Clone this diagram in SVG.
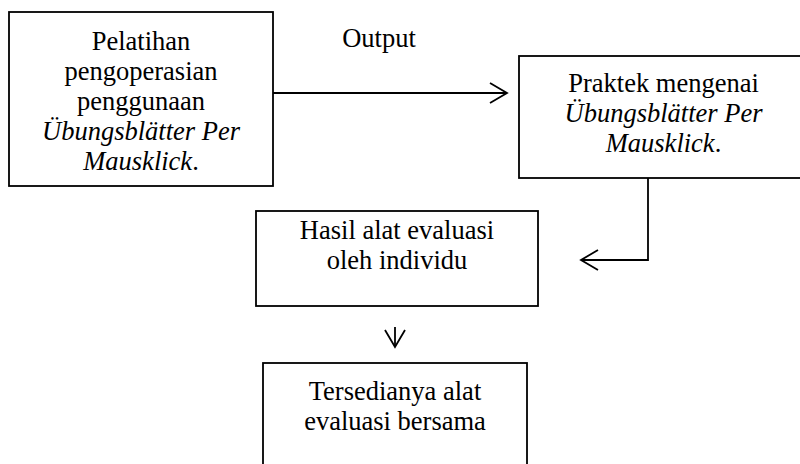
<svg xmlns="http://www.w3.org/2000/svg" width="800" height="464" viewBox="0 0 800 464">
<style>
.box{fill:#fff;stroke:#000;stroke-width:1.8}
.t{font-family:"Liberation Serif","Times New Roman",serif;font-size:26.5px;fill:#000;text-anchor:middle}
.i{font-style:italic}
.c{fill:none;stroke:#000;stroke-width:1.8}
</style>
<rect width="800" height="464" fill="#fff"/>
<g id="connectors">
<path class="c" d="M273 93 H507"/>
<path class="c" d="M490 83 L507 93 L490 103"/>
<path class="c" d="M648 178 V260 H581"/>
<path class="c" d="M598 250 L581 260 L598 270"/>
<path class="c" d="M395 327 V347"/>
<path class="c" d="M385 330 L395 347 L405 330"/>
<text class="t" x="379" y="47">Output</text>
</g>
<g id="node1">
<rect class="box" x="9" y="12" width="264" height="174"/>
<text class="t" x="141" y="50">Pelatihan</text>
<text class="t" x="141" y="80">pengoperasian</text>
<text class="t" x="141" y="110">penggunaan</text>
<text class="t i" x="141" y="140">Übungsblätter Per</text>
<text class="t" x="141" y="170"><tspan class="i">Mausklick</tspan>.</text>
</g>
<g id="node2">
<rect class="box" x="519" y="56" width="290" height="122"/>
<text class="t" x="663.5" y="92">Praktek mengenai</text>
<text class="t i" x="663.5" y="122">Übungsblätter Per</text>
<text class="t" x="663.5" y="152"><tspan class="i">Mausklick</tspan>.</text>
</g>
<g id="node3">
<rect class="box" x="256" y="211" width="282" height="95"/>
<text class="t" x="397" y="239">Hasil alat evaluasi</text>
<text class="t" x="397" y="269">oleh individu</text>
</g>
<g id="node4">
<rect class="box" x="263" y="363" width="264" height="110"/>
<text class="t" x="395" y="400">Tersedianya alat</text>
<text class="t" x="395" y="430">evaluasi bersama</text>
</g>
</svg>
